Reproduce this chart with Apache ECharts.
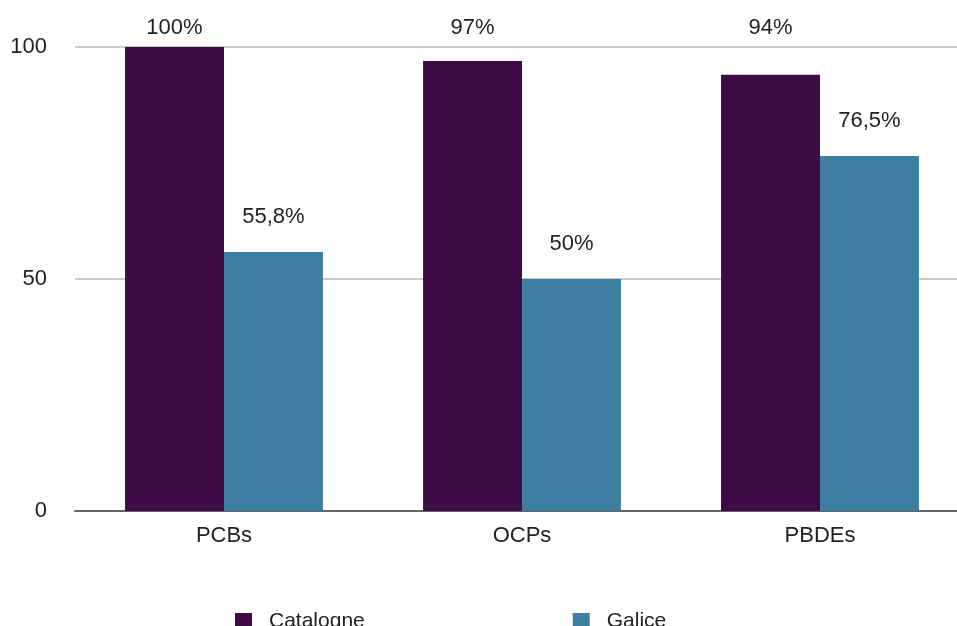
<!DOCTYPE html>
<html>
<head>
<meta charset="utf-8">
<script src="https://cdn.jsdelivr.net/npm/echarts@6/dist/echarts.min.js"></script>
<style>
  html, body { margin: 0; padding: 0; background: #fff; overflow: hidden; }
  #main { width: 969px; height: 626px; }
</style>
</head>
<body>
<div id="main"></div>
<script>
// données
var categories = ['PCBs', 'OCPs', 'PBDEs'];
var catalogne = [100, 97, 94];
var galice = [55.8, 50, 76.5];
var catalogneLabels = ['100%', '97%', '94%'];
var galiceLabels = ['55,8%', '50%', '76,5%'];
var yTicks = [0, 50, 100];

var chart = echarts.init(document.getElementById('main'));
var font = 'Liberation Sans, Arial, sans-serif';

var option = {
    animation: false,
    color: ['#3d0c45', '#3e7fa1'],
    grid: {
        left: 75,
        right: 0,
        top: 47,
        bottom: 115
    },
    legend: {
        data: ['Catalogne', 'Galice'],
        left: 235,
        top: 611,
        padding: 0,
        itemWidth: 17,
        itemHeight: 17,
        itemGap: 208,
        icon: 'rect',
        textStyle: { fontFamily: font, fontSize: 21, color: '#222', padding: [0, 0, 0, 12] }
    },
    xAxis: {
        type: 'category',
        data: categories,
        axisLine: { lineStyle: { color: '#666', width: 2 } },
        axisTick: { show: false },
        axisLabel: { fontFamily: font, fontSize: 22, color: '#222', margin: 14 }
    },
    yAxis: {
        type: 'value',
        min: yTicks[0],
        max: yTicks[yTicks.length - 1],
        interval: 50,
        axisLine: { show: false },
        axisTick: { show: false },
        splitLine: { lineStyle: { color: '#cccccc', width: 2 } },
        axisLabel: { fontFamily: font, fontSize: 22, color: '#222', margin: 28 }
    },
    series: [
        {
            name: 'Catalogne',
            type: 'bar',
            data: catalogne,
            barGap: 0,
            barCategoryGap: '33.6%'
        },
        {
            name: 'Galice',
            type: 'bar',
            data: galice,
            label: {
                show: true,
                position: 'top',
                distance: 24,
                fontFamily: font,
                fontSize: 22,
                color: '#222',
                formatter: function (p) { return galiceLabels[p.dataIndex]; }
            }
        },
        {
            // étiquettes Catalogne alignées en haut
            name: 'etiquettes',
            type: 'scatter',
            silent: true,
            symbolSize: 0,
            itemStyle: { opacity: 1 },
            data: categories.map(function () { return yTicks[yTicks.length - 1]; }),
            label: {
                show: true,
                position: 'top',
                distance: 8,
                offset: [-49.5, 0],
                fontFamily: font,
                fontSize: 22,
                color: '#222',
                opacity: 1,
                formatter: function (p) { return catalogneLabels[p.dataIndex]; }
            }
        }
    ]
};
chart.setOption(option);
</script>
</body>
</html>
